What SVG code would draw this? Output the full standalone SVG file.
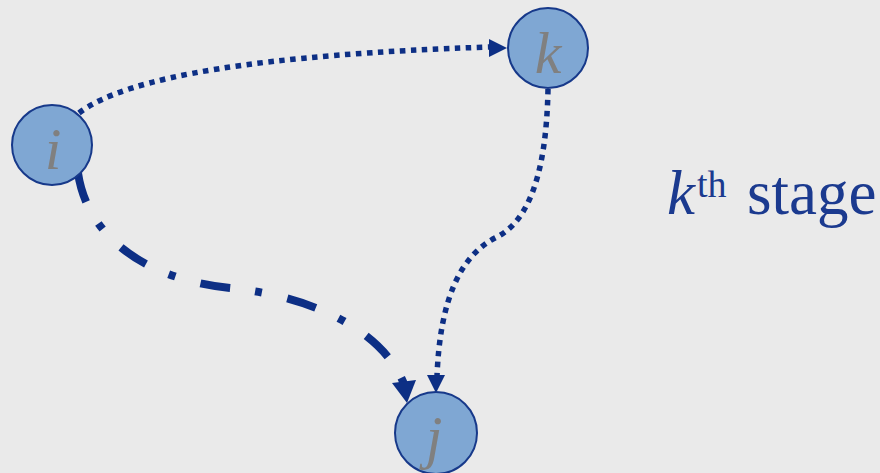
<svg xmlns="http://www.w3.org/2000/svg" width="880" height="473" viewBox="0 0 880 473">
  <style>
    .node circle { fill: #7FA7D3; stroke: #17398A; stroke-width: 2; }
    .node text { font-family: "Liberation Serif", "Times New Roman", serif; font-style: italic; font-size: 60px; fill: #808080; text-anchor: middle; }
    .edge { fill: none; stroke: #0D2F85; stroke-linecap: butt; }
    .dotted { stroke-width: 5.5; stroke-dasharray: 5.5 5.5; }
    .dashdot { stroke-width: 8; stroke-dasharray: 30 25 7 26; }
    .head { fill: #0D2F85; }
    .caption { font-family: "Liberation Serif", "Times New Roman", serif; fill: #1B3A8F; }
  </style>
  <rect width="880" height="473" fill="#EAEAEA"/>

  <!-- connectors -->
  <g id="connectors">
    <path class="edge dotted" d="M 79,113 Q 150,58 490,47"/>
    <polygon class="head" points="489,39 507,48 489,57"/>

    <path class="edge dotted" d="M 548,89 C 547,140 540,215 497,237 C 460,255 440,300 437,376"/>
    <polygon class="head" points="427,375 445,375 436,393"/>

    <path class="edge dashdot" d="M 78,173 C 88,240 150,280 230,288 C 320,297 385,335 404,384"/>
    <polygon class="head" points="392,383 416,380 407,403"/>
  </g>

  <!-- nodes -->
  <g id="node-i" class="node">
    <circle cx="52" cy="145" r="40"/>
    <text x="53" y="169">i</text>
  </g>
  <g id="node-k" class="node">
    <circle cx="548" cy="48" r="40"/>
    <text x="548" y="73">k</text>
  </g>
  <g id="node-j" class="node">
    <circle cx="436" cy="433" r="41"/>
    <text x="434" y="457">j</text>
  </g>

  <!-- stage caption -->
  <g id="caption">
    <text class="caption" x="667" y="214" font-size="63"><tspan font-style="italic">k</tspan><tspan font-size="38" dx="2" dy="-17">th</tspan><tspan x="747" dy="17">stage</tspan></text>
  </g>
</svg>
